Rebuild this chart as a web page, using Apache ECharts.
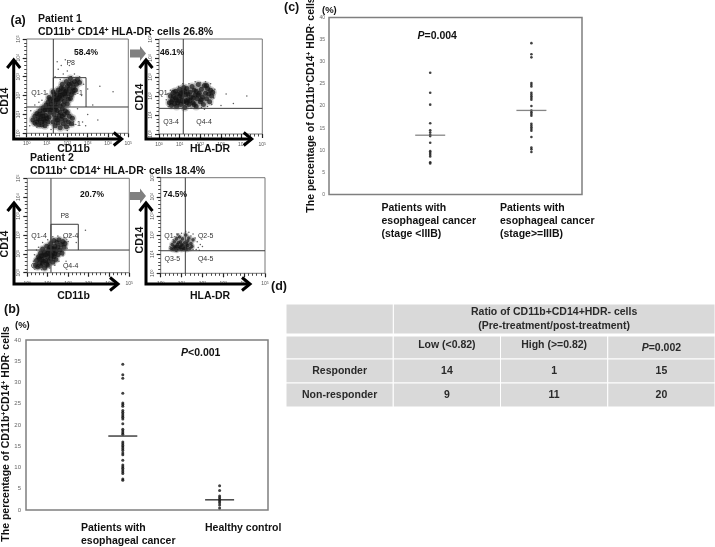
<!DOCTYPE html>
<html><head><meta charset="utf-8">
<style>html,body{margin:0;padding:0;background:#fff}#c{width:715px;height:547px}</style>
<script src="https://cdn.jsdelivr.net/npm/echarts@6/dist/echarts.min.js"></script>
</head><body><div id="c"></div>
<script>
// ---- Panel (b) values
const bPatients=[34.3,31.8,31,27.5,25.2,24.8,24.4,23.4,23,22.6,22.2,21.8,21.4,20.3,19,18.6,18.2,17.8,16,15.6,15.2,14.8,14.4,14,13.4,13,11.7,10.6,10.2,9.8,9.4,9,8.6,7.3,7];
const bHealthy=[5.7,4.6,3.3,2.9,2.5,2.1,1.7,1.2,0.5];
const bMeans=[17.4,2.4];
// ---- Panel (c) values
const cLow=[27.5,23,20.3,16.1,14.5,14,13.5,13.2,11.7,9.8,9.4,9,8.6,7.3,7];
const cHigh=[34.2,31.7,31,25.2,24.8,24.4,23,22.6,22.2,21.8,21.4,20,19,18.6,18.2,17.8,16,15.6,15.2,14.8,14.4,13,10.6,10.2,9.6];
const cMeans=[13.4,19];
const groupX=[40,80];
const yTicks5=5;
// ---- Panel (a) events, read by eye (log-scale axis percent)
const a1Dense=[[16,27],[19,30],[18,25],[21,33],[22,28],[24,31],[23,36],[25,27],[26,34],[27,38],[28,30],[29,35],[30,41],[31,33],[32,38],[33,44],[34,36],[35,41],[36,47],[37,34],[38,39],[39,45],[40,50],[41,42],[42,47],[43,37],[44,53],[45,44],[46,49],[47,55],[48,46],[49,52],[36,30],[29,28],[33,29],[38,44],[31,46],[27,42],[24,25],[41,36],[44,41],[35,52],[39,55],[43,58],[50,57],[52,54],[22,38],[26,44],[40,31],[34,48],[30,36],[33,40],[37,42],[42,52],[46,45],
[6,14],[8,18],[8,11],[10,21],[11,15],[12,9],[13,24],[14,18],[15,12],[16,22],[17,15],[18,8],[19,19],[20,25],[21,12],[22,17],[10,12],[13,14],[16,18],[12,20],[18,13],[15,9],[20,16],[23,22],
[26,12],[27,20],[28,8],[29,16],[30,24],[31,11],[32,19],[33,6],[34,15],[35,26],[36,10],[37,20],[38,14],[39,7],[40,22],[41,12],[42,18],[44,10],[30,14],[35,18],[38,24],[33,22],[28,25],[45,16]];
const a1Sparse=[[28,60],[31,68],[34,72],[36,63],[38,78],[40,66],[42,72],[44,60],[33,57],[47,63],[30,76],[52,60],[56,52],[60,47],[72,50],[85,44],[65,30],[54,40],[8,30],[12,33],[4,24],[55,12],[60,20],[50,26],[58,8],[70,14],[24,4],[40,3],[3,8],[20,42],[15,35]];
const a2Dense=[[10,33],[11,40],[12,30],[13,36],[14,44],[15,32],[16,38],[17,29],[18,42],[19,35],[20,47],[21,31],[22,39],[23,44],[24,34],[25,28],[26,41],[27,48],[28,36],[29,31],[30,44],[31,39],[32,50],[33,33],[34,46],[35,41],[36,29],[37,37],[38,52],[39,43],[40,34],[41,47],[42,39],[43,31],[44,51],[45,43],[46,37],[47,48],[48,42],[49,34],[50,46],[51,40],[52,44],[36,45],[24,49],[16,45],[28,42],[22,35],[18,33],[14,40],[33,38],[26,35],[20,40],[30,35],[38,41],[41,36],[34,31],[46,51],[25,45],[12,34],[17,36],[21,43],[27,33]];
const a2Sparse=[[8,42],[9,29],[11,46],[19,50],[29,53],[35,55],[40,54],[45,55],[50,53],[54,47],[53,38],[51,31],[47,29],[41,28],[31,27],[60,30],[65,42],[72,32],[85,40],[44,26],[7,36],[23,53]];
const a3Dense=[[8,8],[9,13],[10,6],[11,17],[12,10],[13,21],[13,7],[14,14],[15,25],[15,10],[16,18],[17,5],[17,22],[18,13],[19,28],[19,9],[20,17],[21,24],[21,12],[22,20],[23,31],[23,15],[24,26],[25,11],[25,21],[26,34],[26,17],[27,28],[28,23],[28,14],[29,32],[30,19],[30,27],[31,35],[32,24],[33,30],[34,21],[35,33],[36,27],[37,31],[20,21],[18,19],[16,12],[24,18],[22,27],[27,20],[12,15],[20,8],[14,18],[26,25]];
const a3Sparse=[[6,12],[7,19],[9,24],[11,27],[15,32],[20,35],[25,38],[30,39],[36,37],[40,33],[39,26],[35,18],[31,12],[27,8],[22,5],[14,3],[42,40],[48,32],[57,45],[38,12]];
const a4Dense=[[10,26],[11,30],[12,25],[13,33],[14,27],[15,36],[15,24],[16,30],[17,26],[18,38],[18,28],[19,33],[20,25],[21,36],[21,29],[22,26],[23,32],[24,28],[24,40],[25,25],[26,34],[26,29],[27,37],[28,26],[29,31],[30,28],[31,35],[17,32],[13,28],[20,30],[23,26],[15,28],[19,27],[25,31]];
const a4Sparse=[[9,28],[12,35],[16,40],[20,42],[27,43],[31,41],[33,37],[35,33],[36,27],[38,30],[34,25],[31,25],[29,39],[37,24],[40,28],[24,44]];
// gates: vertical, horizontal, gate P8 corner (axis units)
const a1Gate=[26.2,27.9,58.4,59];
const a2Gate=[23.5,27];
const a3Gate=[23.2,24,50,51.3];
const a4Gate=[23.6,23.6];
// ---- Panel (d) table
const tableHeader='Ratio of CD11b+CD14+HDR- cells\n(Pre-treatment/post-treatment)';
const tableCols=['Low (<0.82)','High (>=0.82)','P=0.002'];
const tableRowNames=['Responder','Non-responder'];
const tableValues=[['14','1','15'],['9','11','20']];

const FONT='"Liberation Sans",Arial,sans-serif';
const panels=[
 {box:[26.7,39,101.6,94.3],dense:a1Dense,sparse:a1Sparse,gate:a1Gate,size:5,halo:8},
 {box:[159,39,103.3,95],dense:a2Dense,sparse:a2Sparse,gate:a2Gate,size:5,halo:8},
 {box:[27.3,178.3,102,94.4],dense:a3Dense,sparse:a3Sparse,gate:a3Gate,size:5,halo:7.5},
 {box:[160.7,177.7,104.3,95.6],dense:a4Dense,sparse:a4Sparse,gate:a4Gate,size:3.6,halo:6}
];
const grid=[],xAxis=[],yAxis=[],series=[];
const expRich={s:{fontSize:3.5,color:'#555',fontFamily:FONT,verticalAlign:'top'},b:{fontSize:5,color:'#555',fontFamily:FONT}};
panels.forEach((p,i)=>{
  grid.push({left:p.box[0],top:p.box[1],width:p.box[2],height:p.box[3],show:true,borderColor:'#777',borderWidth:1,backgroundColor:'transparent'});
  const ax=(rot,margin)=>({type:'value',gridIndex:i,min:0,max:100,interval:20,splitLine:{show:false},
    axisLine:{show:false},axisTick:{show:true,length:4,lineStyle:{color:'#222',width:1.2}},
    minorTick:{show:true,splitNumber:5,length:2.5,lineStyle:{color:'#333',width:.9}},
    axisLabel:{show:true,margin:margin,rotate:rot,formatter:v=>'{b|10}{s|'+(v/20)+'}',rich:expRich,hideOverlap:false}});
  xAxis.push(ax(0,8)); yAxis.push(ax(90,6));
  const g=p.gate, line=(d,w)=>({type:'line',xAxisIndex:i,yAxisIndex:i,data:d,showSymbol:false,silent:true,z:4,animation:false,lineStyle:{color:'#3a3a3a',width:w||1}});
  series.push({type:'scatter',xAxisIndex:i,yAxisIndex:i,data:p.sparse,symbolSize:1.5,itemStyle:{color:'#333',opacity:.8},silent:true,animation:false,z:2});
  series.push({type:'scatter',xAxisIndex:i,yAxisIndex:i,data:p.dense,symbolSize:p.halo,itemStyle:{color:'#555',opacity:.3},silent:true,animation:false,z:2});
  series.push({type:'scatter',xAxisIndex:i,yAxisIndex:i,data:p.dense,symbolSize:p.size,itemStyle:{color:'#111',opacity:.7},silent:true,animation:false,z:3});
  series.push(line([[g[0],0],[g[0],100]]));
  series.push(line([[0,g[1]],[100,g[1]]]));
  if(g.length>2) series.push(line([[g[0],g[1]],[g[0],g[3]],[g[2],g[3]],[g[2],g[1]]]));
});
// plots (b) and (c)
const plots=[
 {box:[26,340,242,170],groups:[bPatients,bHealthy],means:bMeans,mw:29},
 {box:[329,17.5,253,177],groups:[cLow,cHigh],means:cMeans,mw:30}
];
plots.forEach((p,k)=>{
  const i=4+k;
  grid.push({left:p.box[0],top:p.box[1],width:p.box[2],height:p.box[3],show:true,borderColor:'#7f7f7f',borderWidth:1.5,backgroundColor:'transparent'});
  xAxis.push({type:'value',gridIndex:i,min:0,max:100,show:false,splitLine:{show:false}});
  yAxis.push({type:'value',gridIndex:i,min:0,max:40,interval:yTicks5,splitLine:{show:false},axisLine:{show:false},axisTick:{show:false},
    axisLabel:{fontSize:k?5:6,color:'#666',fontFamily:FONT,margin:k?4:5}});
  p.groups.forEach((vals,g)=>{
    series.push({type:'scatter',xAxisIndex:i,yAxisIndex:i,data:vals.map(v=>[groupX[g],v]),symbolSize:k?2.6:3,itemStyle:{color:'#111'},silent:true,animation:false});
  });
  series.push({type:'scatter',xAxisIndex:i,yAxisIndex:i,data:p.means.map((v,g)=>[groupX[g],v]),symbol:'rect',symbolSize:[p.mw,k?1.3:1.6],
    itemStyle:{color:k?'#666':'#222'},silent:true,animation:false,z:5});
});
// table (d)
const rowEdges=[0,30,32,55,79,103];
const cells=[{c:[1,4],r:0,t:tableHeader},{c:[0,1],r:0,t:''}];
cells.push({c:[0,1],r:1,t:''});
tableCols.forEach((t,j)=>cells.push({c:[j+1,j+2],r:1,t:t,ital:t[0]==='P'}));
tableRowNames.forEach((n,r)=>{
  cells.push({c:[0,1],r:r+2,t:n});
  tableValues[r].forEach((v,j)=>cells.push({c:[j+1,j+2],r:r+2,t:v}));
});
grid.push({left:286,top:304,width:429,height:103});
xAxis.push({type:'value',gridIndex:6,min:0,max:4,show:false,splitLine:{show:false}});
yAxis.push({type:'value',gridIndex:6,min:0,max:103,inverse:true,show:false,splitLine:{show:false}});
series.push({type:'custom',xAxisIndex:6,yAxisIndex:6,silent:true,animation:false,clip:false,
  data:cells.map(c=>[c.c[0],c.c[1],c.r]),
  encode:{x:[0,1],y:2},
  renderItem(params,api){
    const c=cells[params.dataIndex];
    const a=api.coord([c.c[0],rowEdges[c.r===0?0:c.r+1]]);
    const b=api.coord([c.c[1],rowEdges[c.r===0?1:c.r+2]]);
    const kids=[{type:'rect',shape:{x:a[0],y:a[1],width:b[0]-a[0],height:b[1]-a[1]},style:{fill:'#d9d9d9',stroke:'#fff',lineWidth:1}}];
    if(c.t){
      const txt=c.ital?'{i|P}{n|=0.002}':c.t;
      kids.push({type:'text',x:(a[0]+b[0])/2,y:(a[1]+b[1])/2+(c.r===1?(c.ital?0.5:-2):0),style:{text:txt,align:'center',verticalAlign:'middle',
        fontFamily:FONT,fontWeight:'bold',fontSize:10.5,lineHeight:13.5,fill:'#2a2a2a',
        rich:{i:{fontStyle:'italic',fontWeight:'bold',fontSize:10.5,fontFamily:FONT,fill:'#2a2a2a'},n:{fontSize:10.5,fontWeight:'bold',fontFamily:FONT,fill:'#2a2a2a'}}}});
    }
    return {type:'group',children:kids};
  }});

// annotations
const sup={s:{fontSize:7,fontWeight:'bold',fontFamily:FONT,fill:'#111',verticalAlign:'top',lineHeight:11},
           t:{fontSize:10.5,fontWeight:'bold',fontFamily:FONT,fill:'#111',lineHeight:11},
           i:{fontSize:10.5,fontWeight:'bold',fontStyle:'italic',fontFamily:FONT,fill:'#111'}};
const G=[];
function T(x,y,text,o){o=o||{};
  G.push({type:'text',x:x,y:y,rotation:o.rot||0,z:20,silent:true,style:{text:text,fontFamily:FONT,fontSize:o.fs||10.5,fontWeight:o.w||'bold',
    fill:o.c||'#111',align:o.a||'left',verticalAlign:'middle',lineHeight:o.lh,rich:o.rich}});}
function arrow(x0,y0,top,right){
  const st={stroke:'#000',lineWidth:3,fill:null,lineJoin:'miter'};
  G.push({type:'polyline',z:15,silent:true,shape:{points:[[x0,top],[x0,y0],[right,y0]]},style:st});
  G.push({type:'polyline',z:15,silent:true,shape:{points:[[x0-6.5,top+8],[x0,top],[x0+6.5,top+8]]},style:st});
  G.push({type:'polyline',z:15,silent:true,shape:{points:[[right-8,y0-6.5],[right,y0],[right-8,y0+6.5]]},style:st});
}
function grey(y){G.push({type:'polygon',z:15,silent:true,shape:{points:[[130,y-4],[140,y-4],[140,y-7.5],[146,y],[140,y+7.5],[140,y+4],[130,y+4]]},style:{fill:'#808080'}});}
arrow(13.7,139,60,121.7);arrow(146,139,60,251.7);arrow(14,284,203,118);arrow(146,284,203,250);
grey(53.5);grey(196);
T(10.5,21,'(a)',{fs:12.5});
T(38,19,'Patient 1');
T(38,32,'CD11b{s|+} CD14{s|+} HLA-DR{s|-} cells 26.8%',{rich:sup});
T(30,158,'Patient 2');
T(30,171.5,'CD11b{s|+} CD14{s|+} HLA-DR{s|-} cells 18.4%',{rich:sup});
[[5,101],[140,97],[5,244],[140,240]].forEach(p=>T(p[0],p[1],'CD14',{rot:Math.PI/2,a:'center',fs:10.5}));
[[73.5,148.7,'CD11b'],[210,148.7,'HLA-DR'],[73.5,295.7,'CD11b'],[210,295.7,'HLA-DR']].forEach(p=>T(p[0],p[1],p[2],{a:'center',fs:10.5}));
[[86,52.5,'58.4%'],[172,53,'46.1%'],[92,194.5,'20.7%'],[175,194.5,'74.5%']].forEach(p=>T(p[0],p[1],p[2],{a:'center',fs:8.5}));
const small=[[70.7,62.7,'P8'],[39,93,'Q1-1'],[75,93,'Q2-1'],[41,124,'Q3-1'],[73,124,'Q4-1'],
 [166,93,'Q1-4'],[171,122,'Q3-4'],[204,122,'Q4-4'],
 [64.7,216,'P8'],[39,235.7,'Q1-4'],[70.7,235.7,'Q2-4'],[38.7,265.7,'Q3-4'],[70.7,265.7,'Q4-4'],
 [172,235.7,'Q1-5'],[205.7,235.7,'Q2-5'],[172.3,259,'Q3-5'],[205.7,259,'Q4-5']];
small.forEach(p=>T(p[0],p[1],p[2],{a:'center',fs:7,w:'normal',c:'#333'}));
// (b)
T(4,310,'(b)',{fs:12.5});
T(15,325,'(%)',{fs:9.5});
const yTitle='The percentage of CD11b{s|+}CD14{s|+} HDR{s|-} cells';
T(6,434,yTitle,{rot:Math.PI/2,a:'center',rich:sup});
T(181,353,'{i|P}<0.001',{rich:sup});
T(81,528,'Patients with');T(81,541.5,'esophageal cancer');T(205,528,'Healthy control');
// (c)
T(284,8,'(c)',{fs:12.5});
T(322,10,'(%)',{fs:9.5});
T(311.5,105,yTitle,{rot:Math.PI/2,a:'center',rich:sup});
T(417.5,36,'{i|P}=0.004',{rich:sup});
T(381.5,208,'Patients with');T(381.5,221,'esophageal cancer');T(381.5,234,'(stage <IIIB)');
T(500,208,'Patients with');T(500,221,'esophageal cancer');T(500,234,'(stage>=IIIB)');
// (d)
T(271,287,'(d)',{fs:12.5});

const chart=echarts.init(document.getElementById('c'),null,{renderer:'canvas'});
chart.setOption({animation:false,backgroundColor:'#fff',grid,xAxis,yAxis,series,graphic:{elements:G},tooltip:{show:false},legend:{show:false}});
</script></body></html>
